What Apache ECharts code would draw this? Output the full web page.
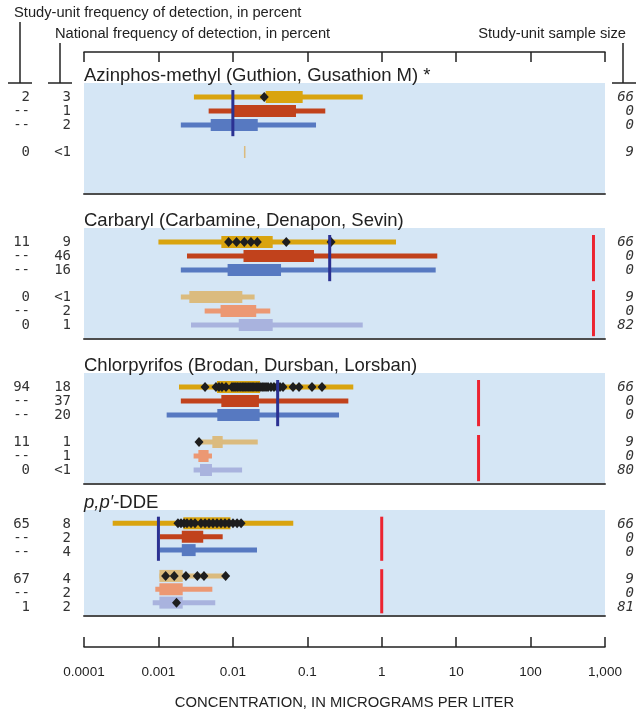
<!DOCTYPE html>
<html>
<head>
<meta charset="utf-8">
<script src="https://cdn.jsdelivr.net/npm/echarts@6/dist/echarts.min.js"></script>
<style>
  html, body { margin: 0; padding: 0; background: #fff; }
  #main { width: 636px; height: 711px; }
</style>
</head>
<body>
<div id="main"></div>
<script>
// panel titles
var titles = [
  'Azinphos-methyl (Guthion, Gusathion M) *',
  'Carbaryl (Carbamine, Denapon, Sevin)',
  'Chlorpyrifos (Brodan, Dursban, Lorsban)',
  '{i|p,p\u2032}-DDE'
];
var tickLabels = ['0.0001', '0.001', '0.01', '0.1', '1', '10', '100', '1,000'];

// frequency columns and sample sizes, one list per panel (6 rows each)
var studyFreq = [
  ['2', '--', '--', '0', '', ''],
  ['11', '--', '--', '0', '--', '0'],
  ['94', '--', '--', '11', '--', '0'],
  ['65', '--', '--', '67', '--', '1']
];
var nationalFreq = [
  ['3', '1', '2', '<1', '', ''],
  ['9', '46', '16', '<1', '2', '1'],
  ['18', '37', '20', '1', '1', '<1'],
  ['8', '2', '4', '4', '2', '2']
];
var sampleSize = [
  ['66', '0', '0', '9', '', ''],
  ['66', '0', '0', '9', '0', '82'],
  ['66', '0', '0', '9', '0', '80'],
  ['66', '0', '0', '9', '0', '81']
];

// boxes: [row, min, 25th, 75th, max]  (ug/L)
var boxesAzinphos = [
  [0, 0.003, 0.0276, 0.0867, 0.556],
  [1, 0.00473, 0.0101, 0.0705, 0.1745],
  [2, 0.002, 0.00504, 0.0216, 0.131],
  [3, 0.0141, 0.0141, 0.0142, 0.0142]
];
var boxesCarbaryl = [
  [0, 0.001, 0.007, 0.0343, 1.556],
  [1, 0.00242, 0.0139, 0.123, 5.58],
  [2, 0.002, 0.0085, 0.0444, 5.31],
  [3, 0.002, 0.0026, 0.0134, 0.0196],
  [4, 0.00418, 0.00684, 0.0206, 0.0318],
  [5, 0.00274, 0.012, 0.0343, 0.556]
];
var boxesChlorpyrifos = [
  [0, 0.00189, 0.00612, 0.0232, 0.415],
  [1, 0.002, 0.007, 0.0224, 0.356],
  [2, 0.00129, 0.00618, 0.0229, 0.267],
  [3, 0.00351, 0.0053, 0.0073, 0.0216],
  [4, 0.00297, 0.00344, 0.00472, 0.00524],
  [5, 0.00297, 0.00362, 0.00524, 0.0133]
];
var boxesDDE = [
  [0, 0.000243, 0.00216, 0.0093, 0.0648],
  [1, 0.00105, 0.00206, 0.004, 0.0073],
  [2, 0.00105, 0.00206, 0.00316, 0.0211],
  [3, 0.00103, 0.00103, 0.00212, 0.008],
  [4, 0.000908, 0.00103, 0.00212, 0.0053],
  [5, 0.000838, 0.00103, 0.00212, 0.0058]
];

// detections: [row, concentration]
var detectAzinphos = [[0, 0.0264]];
var detectCarbaryl = [
  [0, 0.00877], [0, 0.0112], [0, 0.01425], [0, 0.0175], [0, 0.0213], [0, 0.0522], [0, 0.2085]
];
var detectChlorpyrifos = [
  [0, 0.00423], [0, 0.00593], [0, 0.00651], [0, 0.00714], [0, 0.00809], [0, 0.00973],
  [0, 0.01035], [0, 0.011], [0, 0.0117], [0, 0.0125], [0, 0.0133], [0, 0.0141],
  [0, 0.015], [0, 0.016], [0, 0.017], [0, 0.0181], [0, 0.0192], [0, 0.0205],
  [0, 0.0218], [0, 0.0232], [0, 0.0247], [0, 0.0262], [0, 0.0279], [0, 0.0297],
  [0, 0.0325], [0, 0.0357], [0, 0.0392], [0, 0.043], [0, 0.0472], [0, 0.0643],
  [0, 0.0774], [0, 0.1157], [0, 0.1577],
  [3, 0.00351]
];
var detectDDE = [
  [0, 0.00183], [0, 0.00201], [0, 0.00221], [0, 0.00242], [0, 0.00274], [0, 0.0031],
  [0, 0.00373], [0, 0.00423], [0, 0.00478], [0, 0.00541], [0, 0.00612], [0, 0.00693],
  [0, 0.00784], [0, 0.00887], [0, 0.01004], [0, 0.0114], [0, 0.0129],
  [3, 0.00125], [3, 0.00163], [3, 0.00234], [3, 0.00333], [3, 0.00409], [3, 0.008],
  [5, 0.00175]
];

var medians = [0.01, 0.2, 0.04, 0.001];
var benchmarks = [null, 700, 20, 1];

var boxes = [boxesAzinphos, boxesCarbaryl, boxesChlorpyrifos, boxesDDE];
var detects = [detectAzinphos, detectCarbaryl, detectChlorpyrifos, detectDDE];

// layout
var rowColors = ['#D9A40F', '#C1421C', '#5779C1', '#DBBB7E', '#EC9873', '#A9B3DE'];
var rowPos = [1, 2, 3, 4.93, 5.93, 6.93];
var yMax = 7.93;
var panelTops = [83, 228, 373, 510];
var panelH = 111;
var rowH = panelH / yMax;
var plotLeft = 84, plotWidth = 521;
var sans = '"Liberation Sans", Arial, sans-serif';
var mono = '"DejaVu Sans Mono", monospace';

function renderBox(params, api) {
  var y = rowPos[api.value(0)];
  var color = rowColors[api.value(0)];
  var a = api.coord([api.value(1), y]);
  var b = api.coord([api.value(4), y]);
  var c = api.coord([api.value(2), y]);
  var d = api.coord([api.value(3), y]);
  return {
    type: 'group',
    children: [
      { type: 'rect', shape: { x: a[0], y: a[1] - 2.5, width: b[0] - a[0], height: 5 }, style: { fill: color } },
      { type: 'rect', shape: { x: c[0], y: c[1] - 6, width: Math.max(d[0] - c[0], 1.5), height: 12 }, style: { fill: color } }
    ]
  };
}

function vLine(api, v, y0, y1, color) {
  var p0 = api.coord([v, y0]);
  var p1 = api.coord([v, y1]);
  return {
    type: 'line',
    shape: { x1: p0[0], y1: p0[1], x2: p1[0], y2: p1[1] },
    style: { stroke: color, lineWidth: 3 }
  };
}

function renderMedian(params, api) {
  return vLine(api, api.value(0), rowPos[0] - 0.5, rowPos[2] + 0.8, '#2B3192');
}

function renderBenchmark(params, api) {
  return {
    type: 'group',
    children: [
      vLine(api, api.value(0), rowPos[0] - 0.5, rowPos[2] + 0.8, '#EC2431'),
      vLine(api, api.value(0), rowPos[3] - 0.5, rowPos[5] + 0.8, '#EC2431')
    ]
  };
}

var grids = [], xAxes = [], yAxes = [], series = [], graphics = [];

panelTops.forEach(function (top, p) {
  grids.push({
    left: plotLeft, width: plotWidth, top: top, height: panelH,
    show: true, backgroundColor: '#D5E6F5', borderWidth: 0
  });
  xAxes.push({
    type: 'log', logBase: 10, gridIndex: p, min: 0.0001, max: 1000, position: 'bottom',
    axisLine: { show: true, onZero: false, lineStyle: { color: '#4d4d4d', width: 2 } },
    axisTick: { show: false }, axisLabel: { show: false }, splitLine: { show: false }
  });
  yAxes.push({
    type: 'value', gridIndex: p, min: 0, max: yMax, inverse: true, show: false
  });

  series.push({
    type: 'custom', xAxisIndex: p, yAxisIndex: p, z: 2,
    encode: { x: [1, 2, 3, 4], y: 0 },
    data: boxes[p], renderItem: renderBox, silent: true
  });
  if (benchmarks[p] != null) {
    series.push({
      type: 'custom', xAxisIndex: p, yAxisIndex: p, z: 3,
      encode: { x: 0 }, data: [[benchmarks[p]]], renderItem: renderBenchmark, silent: true
    });
  }
  series.push({
    type: 'scatter', xAxisIndex: p, yAxisIndex: p, z: 4,
    symbol: 'diamond', symbolSize: [9, 10],
    itemStyle: { color: '#1E1E1E', opacity: 1 },
    data: detects[p].map(function (d) { return [d[1], rowPos[d[0]]]; }),
    silent: true
  });
  series.push({
    type: 'custom', xAxisIndex: p, yAxisIndex: p, z: 5,
    encode: { x: 0 }, data: [[medians[p]]], renderItem: renderMedian, silent: true
  });

  // title
  graphics.push({
    type: 'text', z: 10,
    style: {
      text: titles[p], x: plotLeft, y: top - 7,
      font: '18.5px ' + sans, fill: '#222',
      textAlign: 'left', textVerticalAlign: 'middle', align: 'left', verticalAlign: 'middle',
      rich: { i: { fontStyle: 'italic', font: 'italic 18.5px ' + sans, fill: '#222' } }
    }
  });
  // row texts
  for (var r = 0; r < 6; r++) {
    var y = top + rowPos[r] * rowH;
    [[studyFreq, 30, 'normal'], [nationalFreq, 71, 'normal'], [sampleSize, 634, 'italic']].forEach(function (col) {
      var t = col[0][p][r];
      if (!t) return;
      graphics.push({
        type: 'text', z: 10,
        style: {
          text: t, x: col[1], y: y,
          font: col[2] + ' 14px ' + mono, fill: '#333',
          textAlign: 'right', textVerticalAlign: 'middle', align: 'right', verticalAlign: 'middle'
        }
      });
    });
  }
});

// top scale axis
xAxes.push({
  type: 'log', logBase: 10, gridIndex: 0, min: 0.0001, max: 1000, position: 'top', offset: 31,
  axisLine: { show: true, onZero: false, lineStyle: { color: '#222', width: 1.5 } },
  axisTick: { show: true, inside: true, length: 10, lineStyle: { color: '#222', width: 1.5 } },
  axisLabel: { show: false }, splitLine: { show: false }
});
// bottom scale axis
xAxes.push({
  type: 'log', logBase: 10, gridIndex: 3, min: 0.0001, max: 1000, position: 'bottom', offset: 31,
  axisLine: { show: true, onZero: false, lineStyle: { color: '#222', width: 1.5 } },
  axisTick: { show: true, inside: true, length: 10, lineStyle: { color: '#222', width: 1.5 } },
  axisLabel: {
    show: true, margin: 18, color: '#222', fontSize: 13.5, fontFamily: sans,
    formatter: function (v) { return tickLabels[Math.round(Math.log10(v)) + 4]; }
  },
  splitLine: { show: false },
  name: 'CONCENTRATION, IN MICROGRAMS PER LITER', nameLocation: 'middle', nameGap: 48,
  nameTextStyle: { color: '#222', fontSize: 14.8, fontFamily: sans }
});

// column headers and brackets
function headerText(text, x, y, align) {
  return {
    type: 'text', z: 10,
    style: {
      text: text, x: x, y: y, font: '14.7px ' + sans, fill: '#222',
      textAlign: align, textVerticalAlign: 'middle', align: align, verticalAlign: 'middle'
    }
  };
}
function seg(x1, y1, x2, y2) {
  return { type: 'line', z: 10, shape: { x1: x1, y1: y1, x2: x2, y2: y2 }, style: { stroke: '#222', lineWidth: 1.5 } };
}
graphics.push(
  headerText('Study-unit frequency of detection, in percent', 14, 13, 'left'),
  headerText('National frequency of detection, in percent', 55, 34, 'left'),
  headerText('Study-unit sample size', 626, 34, 'right'),
  seg(20, 22, 20, 83), seg(8, 83, 32, 83),
  seg(60, 43, 60, 83), seg(48, 83, 72, 83),
  seg(623, 43, 623, 83), seg(612, 83, 636, 83)
);

var chart = echarts.init(document.getElementById('main'), null, { renderer: 'canvas' });
chart.setOption({
  animation: false,
  backgroundColor: '#fff',
  grid: grids,
  xAxis: xAxes,
  yAxis: yAxes,
  series: series,
  graphic: graphics
});
</script>
</body>
</html>
